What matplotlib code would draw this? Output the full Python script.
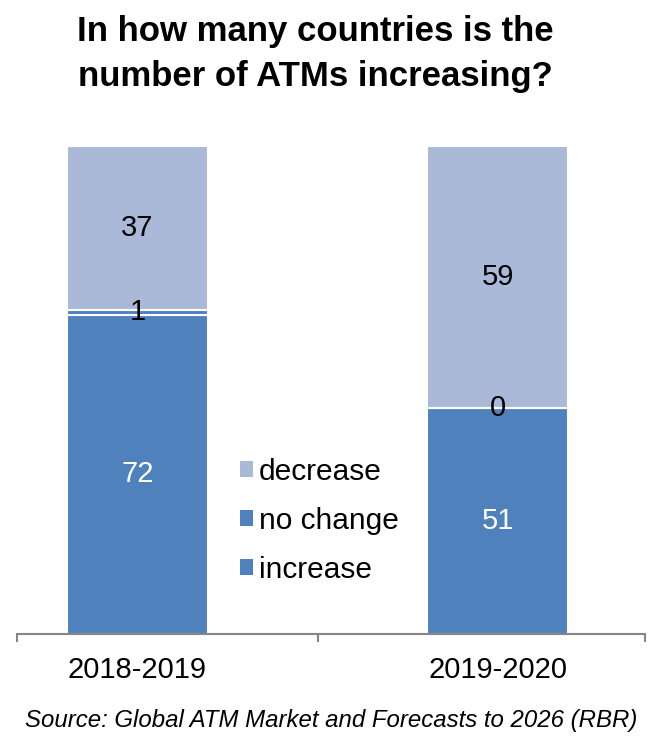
import matplotlib
matplotlib.use("Agg")
import matplotlib.pyplot as plt
from matplotlib.patches import Patch

plt.rcParams['font.family'] = ['Liberation Sans', 'DejaVu Sans']

periods = ["2018-2019", "2019-2020"]
increase = [72, 51]
no_change = [1, 0]
decrease = [37, 59]
series_names = ["increase", "no change", "decrease"]
title = "In how many countries is the\nnumber of ATMs increasing?"
source = "Source: Global ATM Market and Forecasts to 2026 (RBR)"

c_inc = "#4F81BD"
c_nc = "#4F81BD"
c_dec = "#AAB9D7"

W, H = 658, 745
fig = plt.figure(figsize=(W / 100, H / 100), dpi=100)
ax_left, ax_right, ax_bot, ax_top = 17, 645, 634, 146
ax = fig.add_axes([ax_left / W, 1 - ax_bot / H, (ax_right - ax_left) / W, (ax_bot - ax_top) / H])

x = list(range(len(periods)))
bw = 0.392
b1 = ax.bar(x, increase, width=bw, color=c_inc, edgecolor="white", linewidth=1.5)
bottom2 = [a for a in increase]
b2 = ax.bar(x, no_change, width=bw, bottom=bottom2, color=c_nc, edgecolor="white", linewidth=1.5)
bottom3 = [a + b for a, b in zip(increase, no_change)]
b3 = ax.bar(x, decrease, width=bw, bottom=bottom3, color=c_dec, edgecolor="white", linewidth=1.5)

fs = 21
for i in x:
    ax.text(i, increase[i] / 2, str(increase[i]), ha="center", va="center", fontsize=fs, color="white")
    ax.text(i, increase[i] + no_change[i] / 2, str(no_change[i]), ha="center", va="center", fontsize=fs, color="black")
    ax.text(i, bottom3[i] + decrease[i] / 2, str(decrease[i]), ha="center", va="center", fontsize=fs, color="black")

ax.set_xlim(-0.3347, 1.4097)
ax.set_ylim(0, 110)
for s in ["left", "right", "top"]:
    ax.spines[s].set_visible(False)
ax.spines["bottom"].set_color("#868686")
ax.spines["bottom"].set_linewidth(1.5)
ax.set_yticks([])
ax.set_xticks(x)
ax.set_xticklabels(periods, fontsize=fs)
ax.tick_params(axis="x", which="major", length=0, pad=16)
ax.set_xticks([-0.3347, 0.501, 1.4097], minor=True)
ax.tick_params(axis="x", which="minor", length=6, width=1.5, color="#868686")

handles = [Patch(facecolor=c_dec, label=series_names[2]),
           Patch(facecolor=c_nc, label=series_names[1]),
           Patch(facecolor=c_inc, label=series_names[0])]
fig.legend(handles=handles, loc="center left", bbox_to_anchor=(240 / W, 1 - 521 / H),
           frameon=False, fontsize=21.5, handlelength=0.45, handleheight=0.45,
           handletextpad=0.18, labelspacing=0.7, borderpad=0, borderaxespad=0)

fig.text(315 / W, 1 - 54 / H, title, ha="center", va="center", fontsize=25,
         fontweight="bold", linespacing=1.45)
fig.text(331 / W, 1 - 720 / H, source, ha="center", va="center", fontsize=17.3, style="italic")

fig.savefig("out.png", dpi=100)
